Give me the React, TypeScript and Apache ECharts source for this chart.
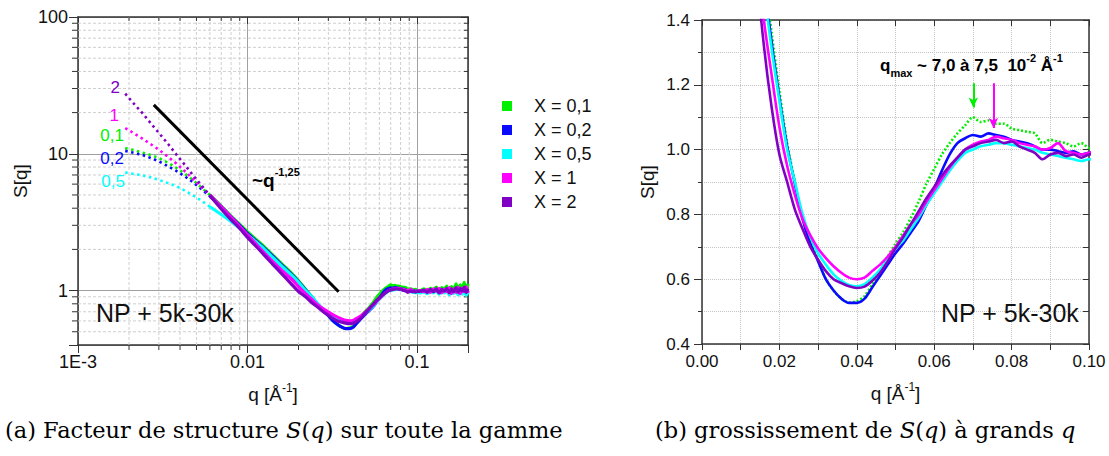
import React, { useEffect, useRef } from 'react';
import * as echarts from 'echarts';

const FONT = '"Liberation Sans", Arial, Helvetica, sans-serif';
const SERIF = '"DejaVu Serif", "Liberation Serif", serif';

// ---------- data ----------
const SERIES_NAMES = ['X = 0,1', 'X = 0,2', 'X = 0,5', 'X = 1', 'X = 2'];
const CURVE_TAGS = ['0,1', '0,2', '0,5', '1', '2'];
const COLORS = ['#00f000', '#0a0aff', '#00ffff', '#ff00ff', '#8000c4'];

const Q_LOW = [0.0019, 0.0021, 0.0024, 0.0027, 0.003, 0.0034, 0.0038, 0.0043, 0.0048, 0.0054, 0.006, 0.007, 0.008, 0.009, 0.01, 0.012, 0.014];
const Q_MID = [0.016, 0.018, 0.02, 0.022, 0.024, 0.026, 0.028, 0.03, 0.032, 0.034, 0.036, 0.038, 0.04, 0.042, 0.044, 0.046, 0.048, 0.05, 0.052, 0.054, 0.056, 0.058, 0.06, 0.062, 0.064, 0.066, 0.068, 0.07, 0.072, 0.074, 0.076, 0.078, 0.08, 0.082, 0.084, 0.086, 0.088, 0.09, 0.092, 0.094, 0.096, 0.098, 0.1];
const Q_TAIL = [0.105, 0.11, 0.115, 0.12, 0.125, 0.13, 0.135, 0.14, 0.145, 0.15, 0.155, 0.16, 0.165, 0.17, 0.175, 0.18, 0.185, 0.19, 0.195, 0.2];

const S_X01 = [
  11.0, 10.7, 10.2, 9.8, 9.3, 8.6, 7.9, 7.1, 6.4, 5.6, 5.0, 4.15, 3.5, 3.05, 2.68, 2.2, 1.83,
  1.56, 1.36, 1.18, 1.02, 0.9, 0.785, 0.715, 0.66, 0.6, 0.565, 0.54, 0.528, 0.532, 0.548, 0.585, 0.625, 0.67, 0.71, 0.745, 0.79, 0.84, 0.895, 0.94, 0.985, 1.02, 1.05, 1.075, 1.1, 1.085, 1.09, 1.08, 1.08, 1.065, 1.06, 1.055, 1.05, 1.02, 1.03, 1.025, 1.02, 1.01, 1.02, 1.005,
  1.0, 1.03, 0.99, 1.04, 1.01, 1.06, 0.98, 1.05, 1.02, 1.08, 0.97, 1.07, 1.03, 1.12, 0.99, 1.1, 1.04, 1.15, 1.0, 1.12,
];
const S_X02 = [
  10.5, 10.2, 9.8, 9.3, 8.8, 8.1, 7.5, 6.8, 6.15, 5.45, 4.9, 4.1, 3.45, 3.0, 2.62, 2.15, 1.8,
  1.53, 1.33, 1.16, 1.01, 0.895, 0.785, 0.71, 0.655, 0.6, 0.565, 0.54, 0.527, 0.527, 0.54, 0.575, 0.61, 0.645, 0.68, 0.71, 0.745, 0.78, 0.83, 0.88, 0.935, 0.985, 1.02, 1.035, 1.045, 1.04, 1.05, 1.045, 1.04, 1.03, 1.025, 1.02, 1.01, 1.0, 1.0, 0.995, 0.99, 0.995, 0.985, 0.99,
  0.98, 1.0, 0.97, 1.01, 0.99, 1.02, 0.96, 1.01, 0.98, 1.03, 0.95, 1.02, 0.97, 1.04, 0.95, 1.03, 0.96, 1.05, 0.94, 1.0,
];
const S_X05 = [
  7.3, 7.15, 6.95, 6.7, 6.45, 6.1, 5.8, 5.35, 4.95, 4.5, 4.1, 3.6, 3.2, 2.85, 2.55, 2.12, 1.76,
  1.5, 1.31, 1.15, 1.0, 0.9, 0.8, 0.73, 0.68, 0.645, 0.615, 0.595, 0.582, 0.578, 0.585, 0.605, 0.63, 0.66, 0.695, 0.72, 0.755, 0.79, 0.83, 0.865, 0.9, 0.935, 0.965, 0.99, 1.0, 1.01, 1.015, 1.02, 1.02, 1.015, 1.01, 1.005, 1.0, 0.99, 0.985, 0.98, 0.975, 0.97, 0.965, 0.97,
  0.96, 0.98, 0.95, 0.99, 0.96, 1.0, 0.94, 0.99, 0.96, 1.01, 0.93, 0.99, 0.95, 1.02, 0.93, 1.0, 0.94, 1.03, 0.92, 0.97,
];
const S_X1 = [
  15.4, 14.3, 12.9, 11.7, 10.7, 9.5, 8.5, 7.4, 6.5, 5.65, 5.0, 4.1, 3.45, 2.95, 2.55, 2.0, 1.64,
  1.4, 1.23, 1.07, 0.95, 0.86, 0.785, 0.735, 0.695, 0.665, 0.64, 0.62, 0.605, 0.6, 0.605, 0.625, 0.645, 0.67, 0.7, 0.735, 0.77, 0.8, 0.84, 0.875, 0.91, 0.945, 0.975, 1.0, 1.015, 1.025, 1.03, 1.04, 1.035, 1.03, 1.02, 1.015, 1.01, 1.0, 1.005, 1.02, 0.995, 0.99, 0.985, 0.99,
  1.0, 0.98, 1.02, 0.97, 1.03, 0.99, 1.04, 0.96, 1.02, 0.98, 1.05, 0.95, 1.03, 0.97, 1.06, 0.95, 1.04, 0.98, 1.07, 0.96,
];
const S_X2 = [
  27.5, 23.8, 19.8, 16.6, 14.2, 11.8, 9.9, 8.2, 6.9, 5.8, 4.95, 3.95, 3.3, 2.85, 2.45, 1.93, 1.57,
  1.32, 1.13, 0.985, 0.9, 0.815, 0.755, 0.7, 0.66, 0.625, 0.6, 0.588, 0.578, 0.573, 0.577, 0.595, 0.62, 0.655, 0.695, 0.73, 0.77, 0.81, 0.85, 0.885, 0.92, 0.95, 0.975, 1.0, 1.01, 1.02, 1.025, 1.03, 1.02, 1.025, 1.01, 1.0, 0.99, 0.97, 0.985, 0.99, 0.98, 0.985, 0.975, 0.985,
  0.99, 1.01, 0.97, 1.02, 0.98, 1.03, 0.96, 1.02, 0.99, 1.04, 0.96, 1.03, 0.98, 1.05, 0.97, 1.04, 0.99, 1.06, 0.97, 1.03,
];
const S_ALL = [S_X01, S_X02, S_X05, S_X1, S_X2];

// power law guide ~ q^-1.25
const POWER_Q = [0.0028, 0.0345];
const POWER_S = [22.8, 0.98];

// q_max arrows (right panel): q position, start S, tip S
const ARROW_Q = [0.0701, 0.0753];
const ARROW_FROM = [1.205, 1.205];
const ARROW_TO = [1.13, 1.067];
const ARROW_SERIES = [0, 3];

// axis ticks
const LOG_X_MINOR = [0.002, 0.003, 0.004, 0.005, 0.006, 0.007, 0.008, 0.009, 0.02, 0.03, 0.04, 0.05, 0.06, 0.07, 0.08, 0.09];
const LOG_Y_MINOR = [0.5, 0.6, 0.7, 0.8, 0.9, 2, 3, 4, 5, 6, 7, 8, 9, 20, 30, 40, 50, 60, 70, 80, 90];
const LOG_X_LABELS: Record<string, string> = { '-3': '1E-3', '-2': '0.01', '-1': '0.1' };
const LOG_Y_LABELS: Record<string, string> = { '0': '1', '1': '10', '2': '100' };

const Q_ALL = [...Q_LOW, ...Q_MID, ...Q_TAIL];
const SPLIT_INDEX = Q_LOW.indexOf(0.006);

const AX = '#333';

function logLabel(map: Record<string, string>) {
  return (v: number) => {
    const l = Math.log10(v);
    const r = Math.round(l);
    if (Math.abs(l - r) < 1e-6 && map[String(r)] !== undefined) return map[String(r)];
    return '';
  };
}

const nameRich = {
  n: { fontSize: 19, fontFamily: FONT, color: '#111', lineHeight: 22, verticalAlign: 'bottom' },
  s: { fontSize: 12, fontFamily: FONT, color: '#111', lineHeight: 22, verticalAlign: 'top' },
};

const captionRich = {
  r: { fontSize: 22.5, fontFamily: SERIF, fill: '#000' },
  i: { fontSize: 22.5, fontFamily: SERIF, fontStyle: 'italic', fill: '#000' },
};

export default function App() {
  const ref = useRef<HTMLDivElement>(null);
  useEffect(() => {
    if (!ref.current) return;
    const chart = echarts.init(ref.current, undefined, { renderer: 'svg' });

    const series: any[] = [];
    S_ALL.forEach((vals, i) => {
      const pairs = Q_ALL.map((q, k) => [q, vals[k]]);
      series.push({
        type: 'line', name: SERIES_NAMES[i], xAxisIndex: 0, yAxisIndex: 0,
        data: pairs.slice(0, SPLIT_INDEX + 1), symbol: 'none', z: 3,
        itemStyle: { color: COLORS[i] },
        lineStyle: { color: COLORS[i], width: 2.6, type: [2.5, 3.5] },
      });
      series.push({
        type: 'line', name: SERIES_NAMES[i], xAxisIndex: 0, yAxisIndex: 0,
        data: pairs.slice(SPLIT_INDEX), symbol: 'none', z: 3, smooth: 0.2,
        itemStyle: { color: COLORS[i] },
        lineStyle: { color: COLORS[i], width: 3.2 },
      });
      const rightPairs = pairs.filter((p) => p[0] >= 0.012 && p[0] <= 0.105);
      const arrowIdx = ARROW_SERIES.indexOf(i);
      series.push({
        type: 'line', name: SERIES_NAMES[i], xAxisIndex: 2, yAxisIndex: 2,
        data: rightPairs, symbol: 'none', z: 3, smooth: 0.3,
        itemStyle: { color: COLORS[i] },
        lineStyle: { color: COLORS[i], width: 2.6, type: i === 0 ? [2, 2] : 'solid' },
        markLine: arrowIdx >= 0 ? {
          silent: true, symbol: ['none', 'arrow'], symbolSize: [7, 10], label: { show: false },
          lineStyle: { color: COLORS[i], width: 2, type: 'solid' },
          data: [[{ coord: [ARROW_Q[arrowIdx], ARROW_FROM[arrowIdx]] }, { coord: [ARROW_Q[arrowIdx], ARROW_TO[arrowIdx]] }]],
        } : undefined,
      });
    });

    series.push({
      type: 'line', name: 'power', xAxisIndex: 0, yAxisIndex: 0, z: 4,
      data: POWER_Q.map((q, k) => [q, POWER_S[k]]), symbol: 'none',
      lineStyle: { color: '#000', width: 3 },
    });

    series.push({
      type: 'custom', name: 'minorX', xAxisIndex: 0, yAxisIndex: 0, silent: true, z: 1,
      data: LOG_X_MINOR.map((q) => [q, 1]),
      renderItem: (params: any, api: any) => {
        const cs = params.coordSys;
        const px = api.coord([api.value(0), 1])[0];
        return {
          type: 'group', children: [
            { type: 'line', shape: { x1: px, y1: cs.y, x2: px, y2: cs.y + cs.height }, style: { stroke: '#cfcfcf', lineWidth: 1, lineDash: [3, 2] } },
            { type: 'line', shape: { x1: px, y1: cs.y + cs.height, x2: px, y2: cs.y + cs.height + 5 }, style: { stroke: AX, lineWidth: 1 } },
            { type: 'line', shape: { x1: px, y1: cs.y, x2: px, y2: cs.y + 4 }, style: { stroke: AX, lineWidth: 1 } },
          ],
        };
      },
    });
    series.push({
      type: 'custom', name: 'minorY', xAxisIndex: 0, yAxisIndex: 0, silent: true, z: 1,
      data: LOG_Y_MINOR.map((s) => [0.01, s]),
      renderItem: (params: any, api: any) => {
        const cs = params.coordSys;
        const py = api.coord([0.01, api.value(1)])[1];
        return {
          type: 'group', children: [
            { type: 'line', shape: { x1: cs.x, y1: py, x2: cs.x + cs.width, y2: py }, style: { stroke: '#cfcfcf', lineWidth: 1, lineDash: [3, 2] } },
            { type: 'line', shape: { x1: cs.x - 6, y1: py, x2: cs.x, y2: py }, style: { stroke: AX, lineWidth: 1 } },
            { type: 'line', shape: { x1: cs.x + cs.width - 4, y1: py, x2: cs.x + cs.width, y2: py }, style: { stroke: AX, lineWidth: 1 } },
          ],
        };
      },
    });

    const axisLine = { show: true, onZero: false, lineStyle: { color: AX, width: 1.5 } };
    const tickStyle = { color: AX, width: 1 };
    const labelStyle = { fontSize: 17, fontFamily: FONT, color: '#111' };
    const logLabelStyle = { fontSize: 18, fontFamily: FONT, color: '#111' };
    const nameStyle = { fontSize: 19, fontFamily: FONT, color: '#111' };
    const dotted = { type: 'dotted', color: '#c4c4c4', width: 1 };

    const tags = [
      { t: CURVE_TAGS[4], c: COLORS[4], x: 120, y: 79 },
      { t: CURVE_TAGS[3], c: COLORS[3], x: 119, y: 107 },
      { t: CURVE_TAGS[0], c: COLORS[0], x: 124, y: 127 },
      { t: CURVE_TAGS[1], c: COLORS[1], x: 124, y: 150 },
      { t: CURVE_TAGS[2], c: COLORS[2], x: 125, y: 173 },
    ];

    const option: any = {
      animation: false,
      backgroundColor: '#ffffff',
      grid: [
        { left: 78, top: 17, width: 390, height: 328 },
        { left: 702, top: 20, width: 387, height: 324 },
      ],
      legend: {
        data: SERIES_NAMES, orient: 'vertical', left: 497, top: 92,
        itemWidth: 10, itemHeight: 10, itemGap: 6, icon: 'rect',
        itemStyle: { borderWidth: 0 },
        textStyle: { fontSize: 18, fontFamily: FONT, color: '#111', padding: [0, 0, 0, 17] },
      },
      xAxis: [
        {
          type: 'log', logBase: 10, gridIndex: 0, min: 0.001, max: 0.2, position: 'bottom',
          axisLine, axisTick: { show: true, length: 8, lineStyle: tickStyle },
          axisLabel: { ...logLabelStyle, margin: 8, formatter: logLabel(LOG_X_LABELS) },
          splitLine: { show: true, lineStyle: { color: '#a0a0a0', width: 1 } },
          name: '{n|q [Å}{s|-1}{n|]}', nameLocation: 'middle', nameGap: 37,
          nameTextStyle: { ...nameStyle, rich: nameRich },
        },
        {
          type: 'log', logBase: 10, gridIndex: 0, min: 0.001, max: 0.2, position: 'top',
          axisLine, axisTick: { show: true, inside: true, length: 7, lineStyle: tickStyle },
          axisLabel: { show: false }, splitLine: { show: false },
        },
        {
          type: 'value', gridIndex: 1, min: 0, max: 0.1, interval: 0.02, position: 'bottom',
          axisLine, axisTick: { show: true, length: 6, lineStyle: tickStyle },
          minorTick: { show: true, splitNumber: 2, length: 6, lineStyle: tickStyle },
          axisLabel: { ...labelStyle, margin: 9, formatter: (v: number) => v.toFixed(2) },
          splitLine: { show: true, lineStyle: dotted },
          minorSplitLine: { show: true, lineStyle: dotted },
          name: '{n|q [Å}{s|-1}{n|]}', nameLocation: 'middle', nameGap: 37,
          nameTextStyle: { ...nameStyle, rich: nameRich },
        },
        {
          type: 'value', gridIndex: 1, min: 0, max: 0.1, interval: 0.01, position: 'top',
          axisLine, axisTick: { show: true, inside: true, length: 6, lineStyle: tickStyle },
          axisLabel: { show: false }, splitLine: { show: false },
        },
      ],
      yAxis: [
        {
          type: 'log', logBase: 10, gridIndex: 0, min: 0.4, max: 100, position: 'left',
          axisLine, axisTick: { show: true, length: 9, lineStyle: tickStyle },
          axisLabel: { ...logLabelStyle, margin: 10, formatter: logLabel(LOG_Y_LABELS) },
          splitLine: { show: true, lineStyle: { color: '#a0a0a0', width: 1 } },
          name: 'S[q]', nameLocation: 'middle', nameGap: 48, nameRotate: 90,
          nameTextStyle: nameStyle,
        },
        {
          type: 'log', logBase: 10, gridIndex: 0, min: 0.4, max: 100, position: 'right',
          axisLine, axisTick: { show: true, inside: true, length: 7, lineStyle: tickStyle },
          axisLabel: { show: false }, splitLine: { show: false },
        },
        {
          type: 'value', gridIndex: 1, min: 0.4, max: 1.4, interval: 0.2, position: 'left',
          axisLine, axisTick: { show: true, length: 8, lineStyle: tickStyle },
          minorTick: { show: true, splitNumber: 2, length: 4, lineStyle: tickStyle },
          axisLabel: { ...labelStyle, margin: 12, formatter: (v: number) => v.toFixed(1) },
          splitLine: { show: true, lineStyle: dotted },
          minorSplitLine: { show: true, lineStyle: dotted },
          name: 'S[q]', nameLocation: 'middle', nameGap: 45, nameRotate: 90,
          nameTextStyle: nameStyle,
        },
        {
          type: 'value', gridIndex: 1, min: 0.4, max: 1.4, interval: 0.1, position: 'right',
          axisLine, axisTick: { show: true, inside: true, length: 6, lineStyle: tickStyle },
          axisLabel: { show: false }, splitLine: { show: false },
        },
      ],
      graphic: [
        ...tags.map((g) => ({
          type: 'text', x: g.x, y: g.y, z: 10,
          style: { text: g.t, fill: g.c, font: `17px ${FONT}`, textAlign: 'right' },
        })),
        {
          type: 'text', x: 252, y: 166, z: 10,
          style: {
            text: '{a|~q}{b|-1,25}',
            rich: {
              a: { fontSize: 19, fontWeight: 'bold', fontFamily: FONT, fill: '#000', lineHeight: 24, verticalAlign: 'bottom' },
              b: { fontSize: 11, fontWeight: 'bold', fontFamily: FONT, fill: '#000', lineHeight: 24, verticalAlign: 'top' },
            },
          },
        },
        { type: 'text', x: 96, y: 300, z: 10, style: { text: 'NP + 5k-30k', font: `25px ${FONT}`, fill: '#111' } },
        { type: 'text', x: 941, y: 300, z: 10, style: { text: 'NP + 5k-30k', font: `25px ${FONT}`, fill: '#111' } },
        {
          type: 'text', x: 880, y: 52, z: 10,
          style: {
            text: '{m|q}{sub|max}{m| ~ 7,0 à 7,5  10}{sup|-2}{m| Å}{sup|-1}',
            rich: {
              m: { fontSize: 17, fontWeight: 'bold', fontFamily: FONT, fill: '#000', lineHeight: 26, verticalAlign: 'middle' },
              sub: { fontSize: 11, fontWeight: 'bold', fontFamily: FONT, fill: '#000', lineHeight: 26, verticalAlign: 'bottom' },
              sup: { fontSize: 11, fontWeight: 'bold', fontFamily: FONT, fill: '#000', lineHeight: 26, verticalAlign: 'top' },
            },
          },
        },
        {
          type: 'text', x: 5, y: 418, z: 10,
          style: {
            text: '{r|(a) Facteur de structure }{i|S}{r|(}{i|q}{r|) sur toute la gamme}',
            rich: captionRich,
          },
        },
        {
          type: 'text', x: 655, y: 418, z: 10,
          style: {
            text: '{r|(b) grossissement de }{i|S}{r|(}{i|q}{r|) à grands }{i|q}',
            rich: captionRich,
          },
        },
      ],
      series,
    };

    chart.setOption(option);
    return () => chart.dispose();
  }, []);

  return (
    <div
      ref={ref}
      style={{ position: 'absolute', left: 0, top: 0, width: 1109, height: 456, background: '#fff' }}
    />
  );
}
